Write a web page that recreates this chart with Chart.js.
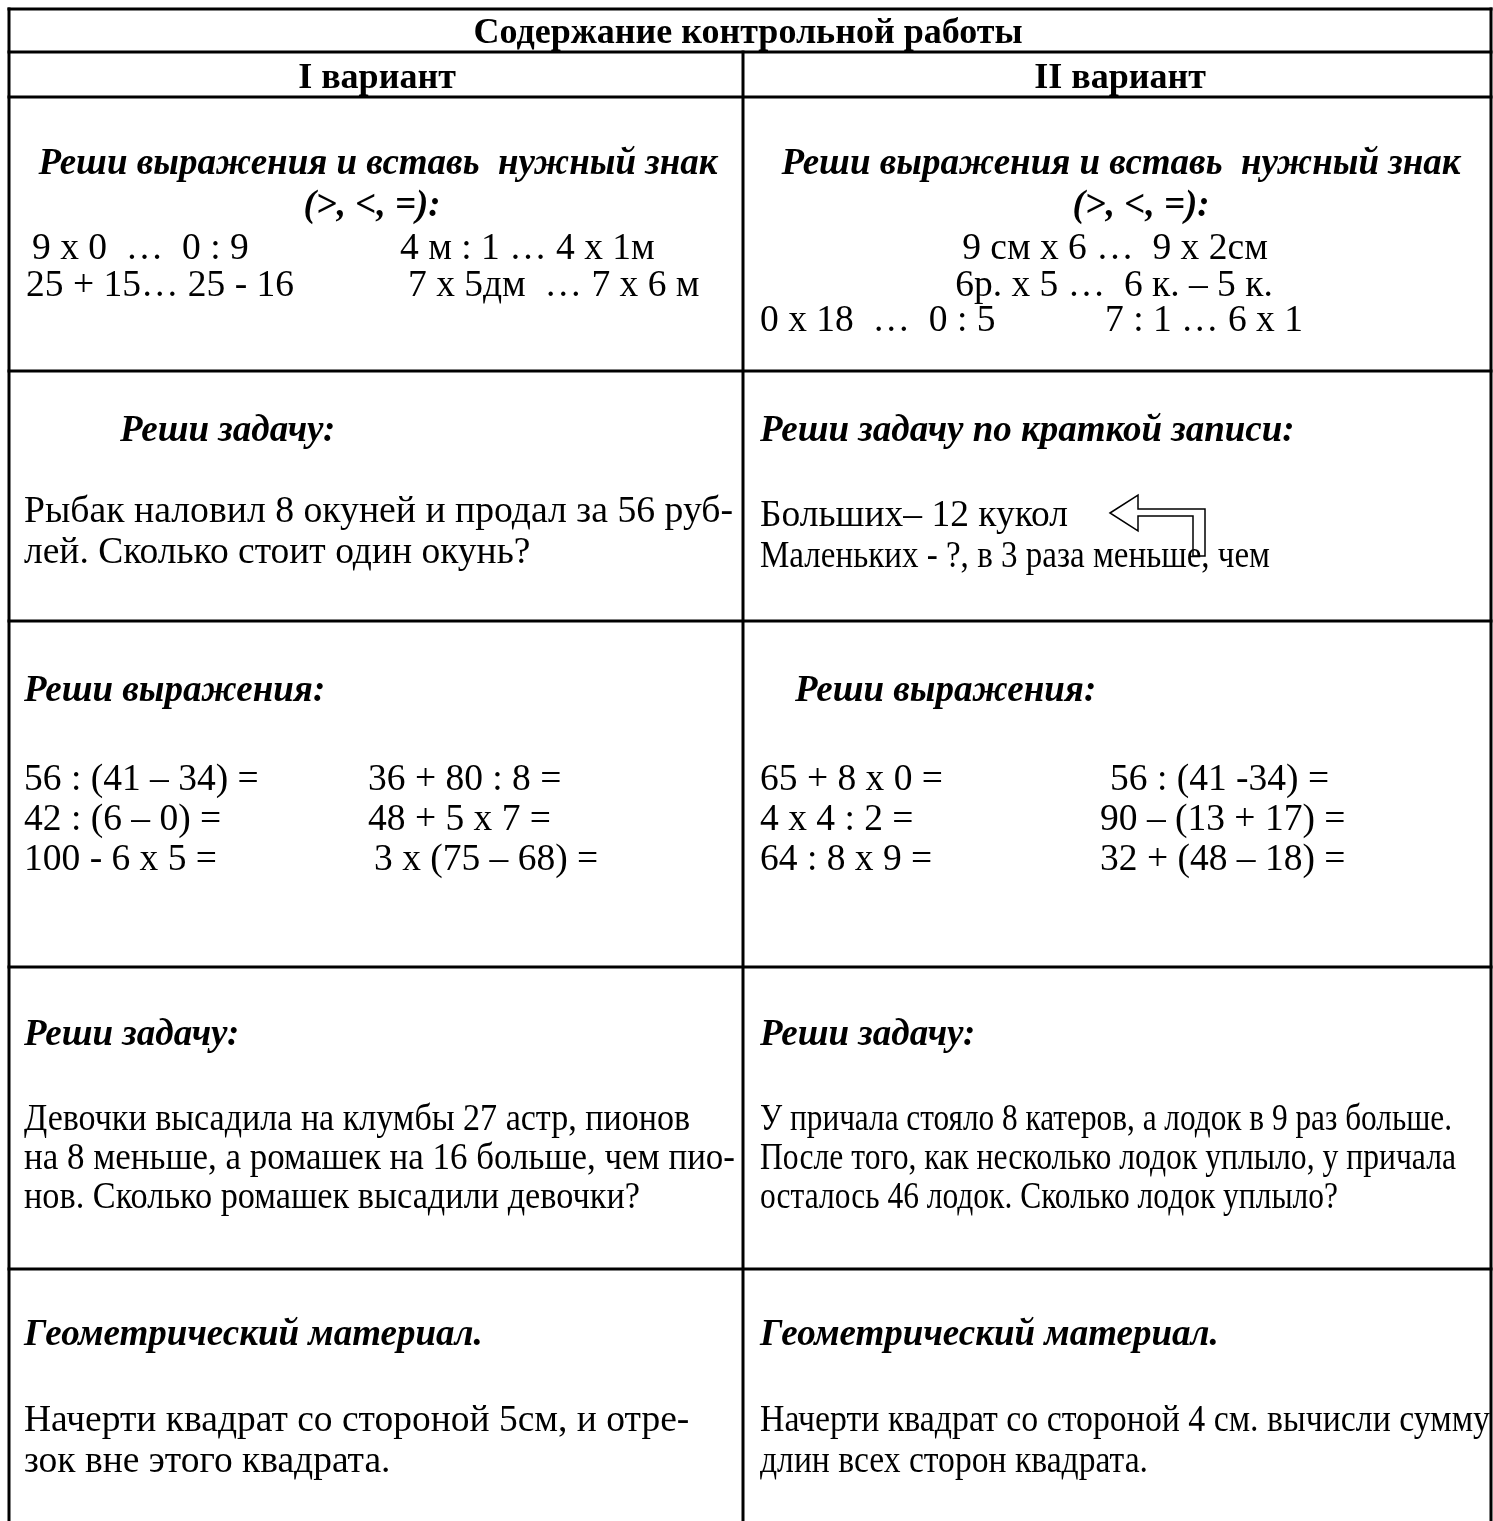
<!DOCTYPE html>
<html><head><meta charset="utf-8">
<script src="https://cdn.jsdelivr.net/npm/chart.js@4.4.1/dist/chart.umd.min.js"></script>
<style>
html,body{margin:0;padding:0;background:#fff;}
#wrap{position:relative;width:1493px;height:1521px;overflow:hidden;background:#fff;}
#c{position:absolute;left:0;top:0;}
#txt{position:absolute;left:0;top:0;width:1493px;height:1521px;pointer-events:none;}
.t{position:absolute;white-space:pre;line-height:1;font-family:"Liberation Serif","Times New Roman",serif;color:#000;transform-origin:0 50%;}
</style></head><body>
<div id="wrap"><canvas id="c" width="1493" height="1521"></canvas><div id="txt"></div></div>
<script>
// ---- content (text of each cell) ----
const headerTexts = ["Содержание контрольной работы", "I вариант", "II вариант"];
const cell1L = ["Реши выражения и вставь  нужный знак", "(>, <, =):", "9 x 0  …  0 : 9", "4 м : 1 … 4 x 1м", "25 + 15… 25 - 16", "7 x 5дм  … 7 x 6 м"];
const cell1R = ["Реши выражения и вставь  нужный знак", "(>, <, =):", "9 см x 6 …  9 x 2см", "6р. х 5 …  6 к. – 5 к.", "0 x 18  …  0 : 5", "7 : 1 … 6 x 1"];
const cell2L = ["Реши задачу:", "Рыбак наловил 8 окуней и продал за 56 руб-", "лей. Сколько стоит один окунь?"];
const cell2R = ["Реши задачу по краткой записи:", "Больших– 12 кукол", "Маленьких - ?, в 3 раза меньше, чем"];
const cell3L = ["Реши выражения:", "56 : (41 – 34) =", "36 + 80 : 8 =", "42 : (6 – 0) =", "48 + 5 x 7 =", "100 - 6 x 5 =", "3 x (75 – 68) ="];
const cell3R = ["Реши выражения:", "65 + 8 x 0 =", "56 : (41 -34) =", "4 x 4 : 2 =", "90 – (13 + 17) =", "64 : 8 x 9 =", "32 + (48 – 18) ="];
const cell4L = ["Реши задачу:", "Девочки высадила на клумбы 27 астр, пионов", "на 8 меньше, а ромашек на 16 больше, чем пио-", "нов. Сколько ромашек высадили девочки?"];
const cell4R = ["Реши задачу:", "У причала стояло 8 катеров, а лодок в 9 раз больше.", "После того, как несколько лодок уплыло, у причала", "осталось 46 лодок. Сколько лодок уплыло?"];
const cell5L = ["Геометрический материал.", "Начерти квадрат со стороной 5см, и отре-", "зок вне этого квадрата."];
const cell5R = ["Геометрический материал.", "Начерти квадрат со стороной 4 см. вычисли сумму", "длин всех сторон квадрата."];

// ---- layout (table geometry, in page units) ----
const rowEdges = [9, 52, 97, 371, 621, 967, 1269];
const colEdges = [9, 743, 1491];
const pageBottom = 1521;

const H = "bold 36px", B = "italic bold 37px", N = "37.5px";
// [x, yCenter, font, align, targetWidth]
const layHead = [[748,35,H,"c"],[377,80,H,"c"],[1120,80,H,"c"]];
const lay1L = [[378,166,B,"c"],[372,208,B,"c"],[32,251,N,"l"],[400,251,N,"l"],[26,288,N,"l"],[408,288,N,"l"]];
const lay1R = [[1121,166,B,"c"],[1141,208,B,"c"],[1115,251,N,"c"],[1114,288,N,"c"],[760,323,N,"l"],[1105,323,N,"l"]];
const lay2L = [[120,433,B,"l"],[24,514,N,"l",709],[24,555,N,"l"]];
const lay2R = [[760,433,B,"l"],[760,518,N,"l"],[760,559,N,"l",510]];
const lay3L = [[24,693,B,"l"],[24,782,N,"l"],[368,782,N,"l"],[24,822,N,"l"],[368,822,N,"l"],[24,862,N,"l"],[374,862,N,"l"]];
const lay3R = [[795,693,B,"l"],[760,782,N,"l"],[1110,782,N,"l"],[760,822,N,"l"],[1100,822,N,"l"],[760,862,N,"l"],[1100,862,N,"l"]];
const lay4L = [[24,1037,B,"l"],[24,1122,N,"l",666],[24,1161,N,"l",711],[24,1200,N,"l",616]];
const lay4R = [[760,1037,B,"l"],[760,1122,N,"l",692],[760,1161,N,"l",696],[760,1200,N,"l",578]];
const lay5L = [[24,1337,B,"l"],[24,1423,N,"l"],[24,1464,N,"l"]];
const lay5R = [[760,1337,B,"l"],[760,1423,N,"l",730],[760,1464,N,"l",388]];

// arrow outline next to "Больших – 12 кукол"
const arrowPts = [[1110,513],[1138,495],[1138,509],[1205,509],[1205,556],[1193,556],[1193,516],[1138,516],[1138,531]];

// ---- build grid line datasets ----
const datasets = [];
function seg(x1,y1,x2,y2){
  datasets.push({data:[{x:x1,y:y1},{x:x2,y:y2}],showLine:true,borderColor:"#000",borderWidth:3,pointRadius:0,fill:false,borderCapStyle:"square"});
}
rowEdges.forEach(y => seg(colEdges[0], y, colEdges[2], y));
seg(colEdges[0], rowEdges[0], colEdges[0], pageBottom+5);
seg(colEdges[2], rowEdges[0], colEdges[2], pageBottom+5);
seg(colEdges[1], rowEdges[1], colEdges[1], pageBottom+5);

const groups = [
  [headerTexts, layHead],[cell1L, lay1L],[cell1R, lay1R],[cell2L, lay2L],[cell2R, lay2R],
  [cell3L, lay3L],[cell3R, lay3R],[cell4L, lay4L],[cell4R, lay4R],[cell5L, lay5L],[cell5R, lay5R]
];

let placed = false;
const overlay = {
  id: "overlay",
  afterDraw(chart){
    const ctx = chart.ctx, sx = chart.scales.x, sy = chart.scales.y;
    ctx.save();
    ctx.beginPath();
    arrowPts.forEach((p,i)=>{
      const px = sx.getPixelForValue(p[0]), py = sy.getPixelForValue(p[1]);
      if(i===0) ctx.moveTo(px,py); else ctx.lineTo(px,py);
    });
    ctx.closePath();
    ctx.fillStyle = "#fff"; ctx.fill();
    ctx.lineWidth = 1.5; ctx.strokeStyle = "#000"; ctx.stroke();
    ctx.restore();
    if (placed) return;
    placed = true;
    const box = document.getElementById("txt");
    groups.forEach(([texts, lays]) => {
      texts.forEach((s, i) => {
        const L = lays[i];
        const el = document.createElement("div");
        el.className = "t";
        el.textContent = s;
        const parts = L[2].split(" ");
        const size = parseFloat(parts[parts.length-1]);
        el.style.fontSize = size + "px";
        if (L[2].includes("bold")) el.style.fontWeight = "bold";
        if (L[2].includes("italic")) el.style.fontStyle = "italic";
        box.appendChild(el);
        const w = el.getBoundingClientRect().width;
        const px = sx.getPixelForValue(L[0]);
        const py = sy.getPixelForValue(L[1]);
        let scale = 1;
        if (L[4]) scale = L[4] / w;
        const realW = w * scale;
        const left = L[3] === "c" ? px - realW/2 : px;
        el.style.left = left + "px";
        el.style.top = (py - 0.61*size) + "px";
        if (scale !== 1) el.style.transform = "scaleX(" + scale + ")";
      });
    });
  }
};

new Chart(document.getElementById("c"), {
  type: "scatter",
  data: { datasets },
  options: {
    responsive: false, animation: false, events: [],
    layout: { padding: 0 },
    plugins: { legend: {display:false}, tooltip: {enabled:false} },
    scales: {
      x: { type:"linear", min:0, max:1493, display:false },
      y: { type:"linear", min:0, max:1521, reverse:true, display:false }
    }
  },
  plugins: [overlay]
});
</script>
</body></html>
